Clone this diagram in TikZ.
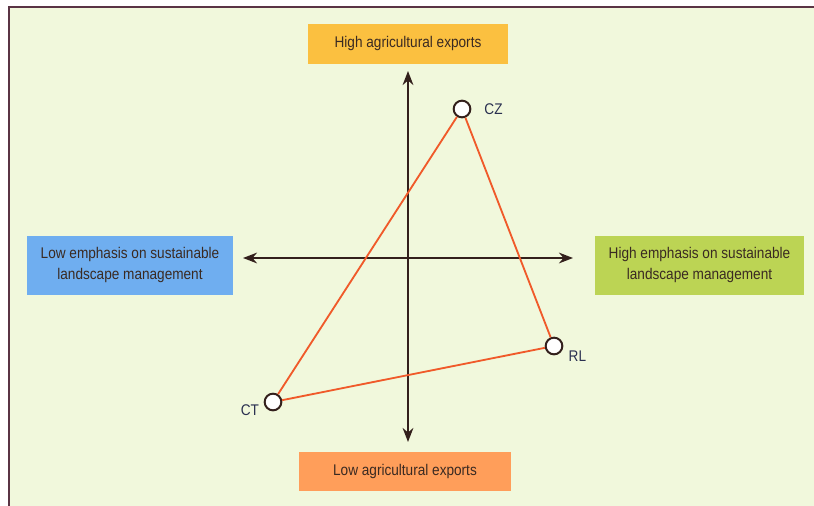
\documentclass[tikz,border=0pt]{standalone}
\usepackage{fontspec}
\setmainfont[FakeStretch=0.88]{Liberation Sans}
\usetikzlibrary{arrows.meta,positioning}
\definecolor{panel}{HTML}{F1F8DC}
\definecolor{frame}{HTML}{5A3444}
\definecolor{highexp}{HTML}{FBC040}
\definecolor{lowexp}{HTML}{FF9E5A}
\definecolor{lowsus}{HTML}{6FAEF0}
\definecolor{highsus}{HTML}{BCD454}
\definecolor{link}{HTML}{F05A2A}
\definecolor{axis}{HTML}{33201C}
\definecolor{ink}{HTML}{3A2A22}
\definecolor{tag}{HTML}{2A3050}

\begin{document}
\begin{tikzpicture}[x=0.03cm, y=-0.03cm,
      pole/.style={minimum height=1.17cm, font=\fontsize{13.2}{15}\selectfont, text=ink},
      side/.style={minimum width=6.2cm, minimum height=1.77cm, align=center,
                   font=\fontsize{13.2}{18.5}\selectfont, text=ink},
      case/.style={circle, draw=axis, line width=0.06cm, fill=white, minimum size=0.5cm, inner sep=0pt},
      tagtext/.style={font=\fontsize{13.2}{15}\selectfont, text=tag},
      ax/.style={{Stealth[length=0.42cm, width=0.32cm]}-{Stealth[length=0.42cm, width=0.32cm]}, line width=0.07cm, axis},
      edge/.style={link, line width=0.055cm}
    ]
      \useasboundingbox (0,0) rectangle (814,506);
      \draw[frame, line width=0.05cm, fill=panel] (9,7) rectangle (840,530);

      % Poles
      \node[pole, fill=highexp, minimum width=6cm] (high) at (408,44) {High agricultural exports};
      \node[pole, fill=lowexp, minimum width=6.36cm] (low) at (405,471) {Low agricultural exports};
      \node[side, fill=lowsus] (lsus) at (130,265) {Low emphasis on sustainable\\landscape management};
      \node[side, fill=highsus, minimum width=6.27cm] (hsus) at (699.5,265) {High emphasis on sustainable\\landscape management};

      % Axes
      \coordinate (top) at (408,71);
      \coordinate (bottom) at (408,442);
      \coordinate (left) at (243,258);
      \coordinate (right) at (573,258);
      \draw[ax] (bottom) -- (top);
      \draw[ax] (left) -- (right);

      % Cases
      \node[case] (cz) at (462,109) {};
      \node[case] (rl) at (554,346) {};
      \node[case] (ct) at (273,402) {};
      \draw[edge] (cz) -- (rl);
      \draw[edge] (rl) -- (ct);
      \draw[edge] (ct) -- (cz);
      \node[tagtext, right=0.27cm of cz] {CZ};
      \node[tagtext, below right=-0.18cm and 0.12cm of rl] {RL};
      \node[tagtext, below left=-0.23cm and 0.1cm of ct] {CT};
    \end{tikzpicture}
\end{document}
